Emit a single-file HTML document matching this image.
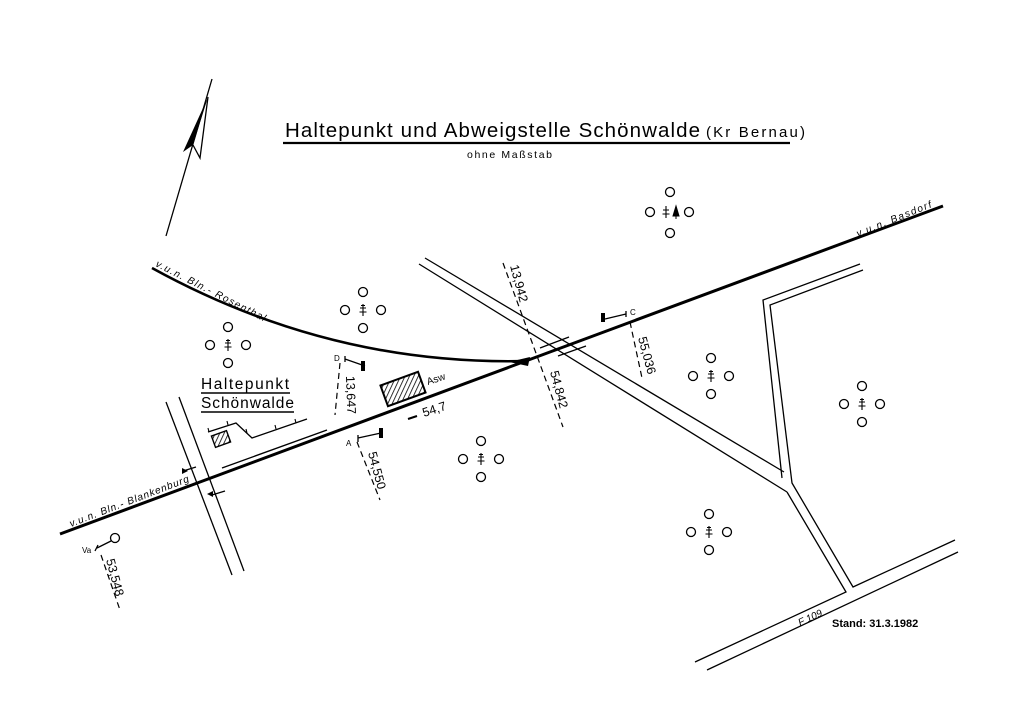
<!DOCTYPE html>
<html><head><meta charset="utf-8"><style>
html,body{margin:0;padding:0;background:#fff;}
svg{display:block;}
text{font-family:"Liberation Sans","DejaVu Sans",sans-serif;fill:#000;}
</style></head><body>
<svg width="1024" height="724" viewBox="0 0 1024 724" xmlns="http://www.w3.org/2000/svg">
<defs>
<pattern id="h" width="4" height="4" patternUnits="userSpaceOnUse" patternTransform="rotate(45)">
<rect width="4" height="4" fill="#fff"/><line x1="0" y1="0" x2="0" y2="4" stroke="#000" stroke-width="1.6"/></pattern>
<g id="tg">
<circle cx="0" cy="-18" r="4.5" fill="none" stroke="#000" stroke-width="1.3"/>
<circle cx="-18" cy="0" r="4.5" fill="none" stroke="#000" stroke-width="1.3"/>
<circle cx="18" cy="0" r="4.5" fill="none" stroke="#000" stroke-width="1.3"/>
<circle cx="0" cy="18" r="4.5" fill="none" stroke="#000" stroke-width="1.3"/>
<path d="M0,-6 V6 M-3,-2 H3 M-3.5,2 H3.5 M-2,-4.5 H2" stroke="#000" stroke-width="1.1" fill="none"/>
</g>
</defs>

<!-- title -->
<text x="285" y="137" font-size="20.5" textLength="415" lengthAdjust="spacing">Haltepunkt und Abweigstelle Schönwalde</text>
<text x="706" y="137" font-size="15" textLength="99" lengthAdjust="spacing">(Kr Bernau)</text>
<line x1="283" y1="143" x2="790" y2="143" stroke="#000" stroke-width="2.2"/>
<text x="467" y="158" font-size="10.5" textLength="85" lengthAdjust="spacing">ohne Maßstab</text>

<!-- north arrow -->
<line x1="166" y1="236" x2="212" y2="79" stroke="#000" stroke-width="1.3"/>
<path d="M208,97 L183,152 L193,145 Z" fill="#000"/>
<path d="M208,97 L200,158 L193,145" fill="none" stroke="#000" stroke-width="1.3"/>

<!-- main track -->
<line x1="60" y1="534" x2="943" y2="206" stroke="#000" stroke-width="3"/>
<!-- Rosenthal curve -->
<path d="M152,268 Q330,366 527,361" fill="none" stroke="#000" stroke-width="2.6"/>
<path d="M509,362 L530,357 L528,366 Z" fill="#000"/>

<!-- left road -->
<line x1="166" y1="402" x2="232" y2="575" stroke="#000" stroke-width="1.3"/>
<line x1="179" y1="397" x2="244" y2="571" stroke="#000" stroke-width="1.3"/>
<path d="M183,471 L196,467" stroke="#000" stroke-width="1.3"/>
<path d="M182,468 l6,3 -6,3z" fill="#000"/>
<path d="M212,495 L225,491" stroke="#000" stroke-width="1.3"/>
<path d="M213,491 l-6,3 6,3z" fill="#000"/>

<!-- platform -->
<line x1="222" y1="468" x2="327" y2="430" stroke="#000" stroke-width="1.4"/>
<path d="M208,432 L236,423 L252,438 L307,419" fill="none" stroke="#000" stroke-width="1.3"/>
<path d="M209,432 l-1,-4 M228,425 l-1,-4 M247,433 l-1,-4 M276,429 l-1,-4 M296,423 l-1,-4" stroke="#000" stroke-width="1.1"/>
<rect x="-8" y="-6" width="16" height="12" fill="url(#h)" stroke="#000" stroke-width="1.4" transform="translate(221,439) rotate(-20)"/>
<!-- ASW -->
<rect x="-20" y="-11" width="40" height="22" fill="url(#h)" stroke="#000" stroke-width="2" transform="translate(403,389) rotate(-20)"/>
<text x="428" y="385" font-size="10" transform="rotate(-18 428 385)">Asw</text>

<text x="201" y="389" font-size="15.5" textLength="88" lengthAdjust="spacing">Haltepunkt</text>
<line x1="201" y1="393" x2="290" y2="393" stroke="#000" stroke-width="1.5"/>
<text x="201" y="408" font-size="15.5" textLength="93" lengthAdjust="spacing">Schönwalde</text>
<line x1="201" y1="412" x2="294" y2="412" stroke="#000" stroke-width="1.5"/>

<!-- diagonal road -->
<line x1="425" y1="258" x2="784" y2="472" stroke="#000" stroke-width="1.3"/>
<line x1="419" y1="264" x2="787" y2="492" stroke="#000" stroke-width="1.3"/>
<line x1="540" y1="348" x2="569" y2="337" stroke="#000" stroke-width="1.3"/>
<line x1="558" y1="356" x2="586" y2="346" stroke="#000" stroke-width="1.3"/>
<!-- Y road -->
<path d="M860,264 L763,300 L782,478" fill="none" stroke="#000" stroke-width="1.3"/>
<path d="M863,270 L770,305 L792,483 L853,587 L955,540" fill="none" stroke="#000" stroke-width="1.3"/>
<path d="M787,492 L846,592 L695,662" fill="none" stroke="#000" stroke-width="1.3"/>
<line x1="707" y1="670" x2="958" y2="552" stroke="#000" stroke-width="1.3"/>
<text x="800" y="626" font-size="10" font-style="italic" transform="rotate(-25 800 626)">F 109</text>
<text x="832" y="627" font-size="11" font-weight="bold">Stand: 31.3.1982</text>

<!-- route labels -->
<text x="155" y="266" font-size="10" font-style="italic" textLength="122" lengthAdjust="spacing" transform="rotate(27 155 266)">v.u.n. Bln.- Rosenthal</text>
<text x="71" y="527" font-size="10" font-style="italic" textLength="127" lengthAdjust="spacing" transform="rotate(-21 71 527)">v.u.n. Bln.- Blankenburg</text>
<text x="858" y="237" font-size="10" font-style="italic" textLength="80" lengthAdjust="spacing" transform="rotate(-22 858 237)">v.u.n. Basdorf</text>

<!-- km dashed lines -->
<g stroke="#000" stroke-width="1.2" stroke-dasharray="6,4" fill="none">
<line x1="503" y1="263" x2="563" y2="427"/>
<line x1="340" y1="363" x2="335" y2="415"/>
<line x1="357" y1="442" x2="380" y2="500"/>
<line x1="630" y1="322" x2="642" y2="378"/>
<line x1="101" y1="555" x2="120" y2="610"/>
</g>
<g font-size="12.5">
<text x="510" y="266" transform="rotate(75 510 266)">13,942</text>
<text x="550" y="372" transform="rotate(75 550 372)">54,842</text>
<text x="346" y="376" transform="rotate(88 346 376)">13,647</text>
<text x="368" y="453" transform="rotate(75 368 453)">54,550</text>
<text x="638" y="338" transform="rotate(75 638 338)">55,036</text>
<text x="106" y="560" transform="rotate(75 106 560)">53,548</text>
<text x="424" y="417" transform="rotate(-18 424 417)">54,7</text>
</g>
<line x1="408" y1="419" x2="417" y2="416" stroke="#000" stroke-width="2"/>

<!-- signals -->
<path d="M345,356 L345,362 M345,359 L365,366" stroke="#000" stroke-width="1.3" fill="none"/>
<rect x="361" y="361" width="4" height="10" fill="#000"/>
<text x="334" y="361" font-size="8">D</text>
<path d="M358,435 L358,442 M358,438 L381,433" stroke="#000" stroke-width="1.3" fill="none"/>
<rect x="379" y="428" width="4" height="10" fill="#000"/>
<text x="346" y="446" font-size="8">A</text>
<path d="M626,311 L626,317 M626,314 L605,319" stroke="#000" stroke-width="1.3" fill="none"/>
<rect x="601" y="313" width="4" height="9" fill="#000"/>
<text x="630" y="315" font-size="8">C</text>
<path d="M95,551 L98,545 M97,548 L111,541" stroke="#000" stroke-width="1.3" fill="none"/>
<circle cx="115" cy="538" r="4.5" fill="none" stroke="#000" stroke-width="1.3"/>
<text x="82" y="553" font-size="8">Va</text>

<!-- tree groups -->
<use href="#tg" x="363" y="310"/>
<use href="#tg" x="228" y="345"/>
<use href="#tg" x="711" y="376"/>
<use href="#tg" x="862" y="404"/>
<use href="#tg" x="481" y="459"/>
<use href="#tg" x="709" y="532"/>
<g transform="translate(670,212)">
<circle cx="0" cy="-20" r="4.5" fill="none" stroke="#000" stroke-width="1.3"/>
<circle cx="-20" cy="0" r="4.5" fill="none" stroke="#000" stroke-width="1.3"/>
<circle cx="19" cy="0" r="4.5" fill="none" stroke="#000" stroke-width="1.3"/>
<circle cx="0" cy="21" r="4.5" fill="none" stroke="#000" stroke-width="1.3"/>
<path d="M-4,-6 V6 M-7,-2 H-1 M-7.5,2 H-0.5" stroke="#000" stroke-width="1.1"/>
<path d="M6,-6 L3,4 H9 Z M6,4 V7" fill="#000" stroke="#000" stroke-width="1"/>
</g>
</svg>
</body></html>
